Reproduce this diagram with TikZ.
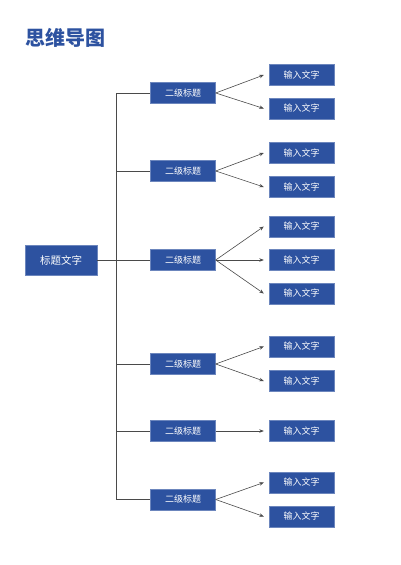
\documentclass[tikz,border=0pt]{standalone}
\usepackage{fontspec}
\setmainfont{Noto Sans CJK SC}
\usetikzlibrary{arrows.meta}

\definecolor{boxblue}{HTML}{2D52A0}
\definecolor{linegray}{HTML}{4A4A4A}

\tikzset{
  box/.style={fill=boxblue, draw=boxblue!70!white, line width=0.4pt, text=white, inner sep=0pt, align=center},
  root/.style={box, minimum width=72pt, minimum height=30pt, font=\fontsize{10.5}{12}\selectfont},
  sub/.style={box, minimum width=65pt, minimum height=21pt, font=\fontsize{9}{11}\selectfont},
  leaf/.style={box, minimum width=65pt, minimum height=21pt, font=\fontsize{9}{11}\selectfont},
  link/.style={draw=linegray, line width=0.6pt},
  arr/.style={link, -{Stealth[length=4.5pt,width=3.5pt]}}
}

\begin{document}
\begin{tikzpicture}[x=1pt,y=-1pt]
\useasboundingbox (0,0) rectangle (400,565);

\node[text=boxblue, font=\fontsize{20}{24}\selectfont\bfseries] (title) at (65,38) {思维导图};

% root
\node[root] (root) at (61,260) {标题文字};

% second level
\node[sub] (s1) at (183,93) {二级标题};
\node[sub] (s2) at (183,171) {二级标题};
\node[sub] (s3) at (183,260) {二级标题};
\node[sub] (s4) at (183,364) {二级标题};
\node[sub] (s5) at (183,431) {二级标题};
\node[sub] (s6) at (183,499.5) {二级标题};

% leaves
\node[leaf] (l1) at (301.5,75) {输入文字};
\node[leaf] (l2) at (301.5,108.5) {输入文字};
\node[leaf] (l3) at (301.5,153) {输入文字};
\node[leaf] (l4) at (301.5,187) {输入文字};
\node[leaf] (l5) at (301.5,226.5) {输入文字};
\node[leaf] (l6) at (301.5,260) {输入文字};
\node[leaf] (l7) at (301.5,293.5) {输入文字};
\node[leaf] (l8) at (301.5,346.5) {输入文字};
\node[leaf] (l9) at (301.5,381) {输入文字};
\node[leaf] (l10) at (301.5,431) {输入文字};
\node[leaf] (l11) at (301.5,482.5) {输入文字};
\node[leaf] (l12) at (301.5,516.5) {输入文字};

% trunk
\coordinate (trunk) at (116,260);
\draw[link] (trunk |- s1.west) -- (trunk |- s6.west);
\draw[link] (root.east) -- (s3.west);
\foreach \s in {s1,s2,s4,s5,s6}
  \draw[link] (trunk |- \s.west) -- (\s.west);

% arrows
\foreach \s/\l in {s1/l1,s1/l2,s2/l3,s2/l4,s3/l5,s3/l6,s3/l7,s4/l8,s4/l9,s5/l10,s6/l11,s6/l12}
  \draw[arr] (\s.east) -- ([xshift=-5pt]\l.west);

\end{tikzpicture}
\end{document}
